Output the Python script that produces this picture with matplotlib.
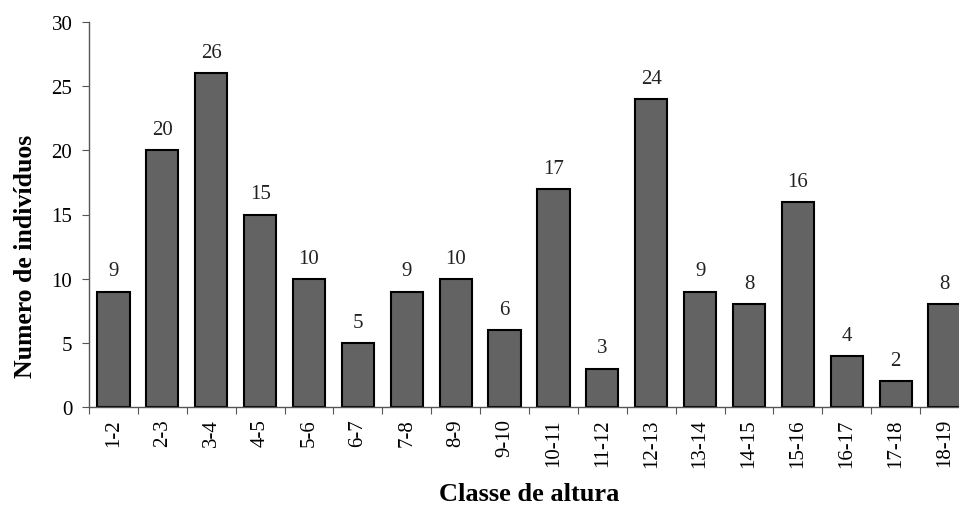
import matplotlib.pyplot as plt

classes = ['1-2', '2-3', '3-4', '4-5', '5-6', '6-7', '7-8', '8-9', '9-10',
           '10-11', '11-12', '12-13', '13-14', '14-15', '15-16', '16-17',
           '17-18', '18-19']
counts = [9, 20, 26, 15, 10, 5, 9, 10, 6, 17, 3, 24, 9, 8, 16, 4, 2, 8]
y_ticks = [0, 5, 10, 15, 20, 25, 30]

plt.rcParams['font.family'] = ['Liberation Serif', 'DejaVu Serif']

fig = plt.figure(figsize=(9.59, 5.06), dpi=100)
# axes run a bit past the right edge, the last bar is cut off like in the original
ax = fig.add_axes([89 / 959, 98 / 506, 880 / 959, 385 / 506])

x = list(range(len(classes)))
ax.bar(x, counts, width=0.66, color='#636363', edgecolor='black', linewidth=1.5)

for xi, v in zip(x, counts):
    ax.annotate(str(v), (xi, v), xytext=(0, 8), textcoords='offset points',
                ha='center', va='bottom', fontsize=15, color='#222222')

ax.set_xlim(-0.5, len(classes) - 0.5)
ax.set_ylim(0, 30)
ax.set_yticks(y_ticks)
ax.tick_params(axis='y', labelsize=15, direction='out', length=5, color='#555555', pad=7)

# ticks sit between the classes, labels in the middle
ax.set_xticks([i - 0.5 for i in range(len(classes) + 1)], minor=False)
ax.set_xticklabels([])
ax.set_xticks(x, minor=True)
ax.set_xticklabels(classes, minor=True, rotation=90, fontsize=15)
ax.tick_params(axis='x', which='major', direction='out', length=5, color='#555555')
ax.tick_params(axis='x', which='minor', length=0, pad=8)

for s in ['top', 'right']:
    ax.spines[s].set_visible(False)
for s in ['left', 'bottom']:
    ax.spines[s].set_color('#555555')
    ax.spines[s].set_linewidth(1)

ax.set_ylabel('Numero de indivíduos', fontsize=18.5, fontweight='bold')
ax.yaxis.set_label_coords(-0.059, 0.395)
ax.set_xlabel('Classe de altura', fontsize=19, fontweight='bold', labelpad=11)

fig.savefig('out.png', dpi=100)
